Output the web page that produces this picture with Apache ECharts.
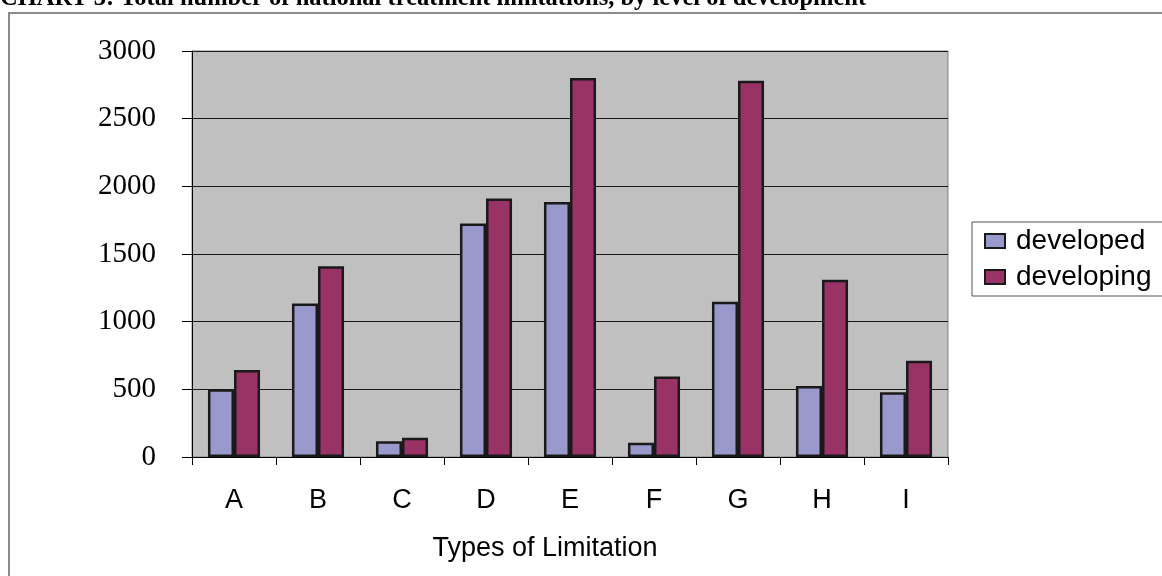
<!DOCTYPE html>
<html><head><meta charset="utf-8">
<script src="https://cdn.jsdelivr.net/npm/echarts@6/dist/echarts.min.js"></script>
<style>html,body{margin:0;padding:0;background:#fff;}#c{width:1162px;height:576px;}</style>
</head><body><div id="c"></div>
<script>
const categories = ['A','B','C','D','E','F','G','H','I'];
const developed = [500, 1135, 116, 1725, 1885, 106, 1148, 525, 478];
const developing = [643, 1410, 143, 1910, 2800, 594, 2781, 1310, 712];
const yTicks = [0, 500, 1000, 1500, 2000, 2500, 3000];
const titleText = 'CHART 3: Total number of national treatment limitations, by level of development';

const chart = echarts.init(document.getElementById('c'), null, {renderer:'canvas'});
chart.setOption({
  animation: false,
  backgroundColor: '#fff',
  graphic: [
    {type:'rect', shape:{x:9, y:13, width:1200, height:620}, style:{fill:'none', stroke:'#8a8a8a', lineWidth:2}, z:0},
    {type:'text', left:0, top:-14, style:{text:titleText, font:'bold 24.5px "Liberation Serif"', fill:'#000'}}
  ],
  grid: {left:192, top:51, right:214, bottom:119, show:true, backgroundColor:'#C0C0C0', borderColor:'#808080', borderWidth:1},
  legend: {
    orient:'vertical', left:972, top:222,
    backgroundColor:'#fff', borderColor:'#555', borderWidth:1,
    padding:[5, 30, 5, 12], itemGap:8, itemWidth:20, itemHeight:14,
    icon:'rect',
    textStyle:{fontFamily:'Liberation Sans', fontSize:28, color:'#000', padding:[0,0,0,6]},
    data:['developed','developing']
  },
  xAxis: {
    type:'category', data:categories,
    axisLine:{show:true, lineStyle:{color:'#000', width:1}},
    axisTick:{show:true, length:8, lineStyle:{color:'#000'}},
    axisLabel:{margin:30, fontFamily:'Liberation Sans', fontSize:27, color:'#000'},
    name:'Types of Limitation', nameLocation:'middle', nameGap:78,
    nameTextStyle:{fontFamily:'Liberation Sans', fontSize:27, color:'#000', padding:[0,50,0,0]}
  },
  yAxis: {
    type:'value', min:0, max:3000, interval:500,
    axisLine:{show:true, lineStyle:{color:'#000', width:1}},
    axisTick:{show:true, length:10, lineStyle:{color:'#000'}},
    axisLabel:{margin:36, fontFamily:'Liberation Serif', fontSize:29, color:'#000',
      formatter: v => yTicks.includes(v) ? String(v) : ''},
    splitLine:{show:true, lineStyle:{color:'#1a1a1a', width:1}}
  },
  series: [
    {name:'developed', type:'bar', data:developed, barGap:'0%', barCategoryGap:'38%',
      itemStyle:{color:'#9999CC', borderColor:'#1a1a1a', borderWidth:2.5}},
    {name:'developing', type:'bar', data:developing,
      itemStyle:{color:'#993366', borderColor:'#1a1a1a', borderWidth:2.5}}
  ]
});
</script></body></html>
